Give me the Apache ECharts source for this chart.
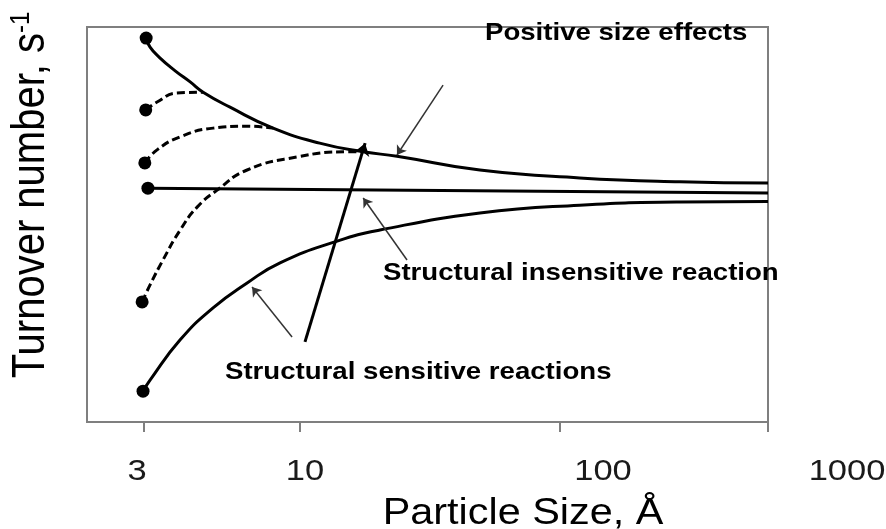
<!DOCTYPE html>
<html>
<head>
<meta charset="utf-8">
<script src="https://cdn.jsdelivr.net/npm/echarts@6/dist/echarts.min.js"></script>
<style>
html, body { margin: 0; padding: 0; background: #fff; }
#chart { width: 886px; height: 529px; }
</style>
</head>
<body>
<div id="chart"></div>
<script>
// particle size (Å) vs turnover number (schematic, 0-100)
var positiveSize = [[2.56, 97.2], [2.65, 94.9], [2.89, 92.2], [3.31, 88.9], [3.78, 86.1], [4.24, 83.5], [5.38, 79.7], [7.88, 74.4], [11.9, 70.6], [17.5, 68.4], [23.6, 67.3], [49.2, 63.8], [119, 61.8], [289, 60.8], [631, 60.5]];
var insensitive = [[2.60, 59.2], [631, 58.0]];
var sensitive = [[2.49, 7.8], [2.65, 10.6], [3.46, 20.8], [4.63, 28.9], [6.26, 35.2], [8.38, 40.3], [13.9, 45.8], [20.3, 48.6], [49.2, 52.9], [119, 54.9], [289, 55.7], [631, 55.8]];
var dashedTop = [[2.55, 79.0], [2.82, 81.0], [3.36, 83.3], [4.24, 83.5]];
var dashedMid = [[2.53, 65.6], [2.82, 68.9], [3.46, 72.2], [4.63, 74.4], [6.26, 74.9], [7.88, 74.4]];
var dashedLow = [[2.47, 30.4], [2.65, 34.7], [2.97, 41.0], [3.46, 48.6], [4.02, 54.4], [4.80, 58.7], [6.26, 63.8], [9.74, 67.1], [15.2, 68.4], [17.5, 68.4]];

var xTicks = [2.5, 10, 100, 631];
var xTickLabels = ['3', '10', '100', '1000'];

// annotation arrows, [from, to] in data units
var thinArrows = [
    [[35.5, 85.3], [23.6, 67.6]],
    [[25.8, 41.0], [17.5, 56.7]],
    [[9.32, 21.5], [6.54, 34.2]]
];
var thickArrows = [
    [[10.45, 20.3], [17.8, 70.6]]
];

var FONT = '"Liberation Sans", Arial, Helvetica, sans-serif';
var STRETCH = 1.15;
var tickLabelX = [137, 305, 603, 847];

var chart = echarts.init(document.getElementById('chart'));

function curve(data, dashed) {
    return {
        type: 'line',
        data: data,
        smooth: 0.5,
        symbol: 'none',
        silent: true,
        z: 3,
        lineStyle: { color: '#000', width: 3, type: dashed ? [8, 4] : 'solid' }
    };
}

function label(text, x, y, size, bold, align) {
    return {
        type: 'text', x: x, y: y, scaleX: STRETCH, silent: true,
        style: {
            text: text, fill: '#000',
            font: (bold ? 'bold ' : '') + size + 'px ' + FONT,
            textAlign: align || 'left', align: align || 'left',
            textVerticalAlign: 'middle', verticalAlign: 'middle'
        }
    };
}

var curves = [positiveSize, dashedTop, dashedMid, insensitive, dashedLow, sensitive];
var startDots = curves.map(function (s) { return s[0]; });

var graphics = [
    label('Positive size effects', 485, 33, 24, true),
    label('Structural insensitive reaction', 383, 273, 24, true),
    label('Structural sensitive reactions', 225, 372, 24, true),
    label('Particle Size, Å', 523, 514, 36, false, 'center'),
    {
        type: 'text', x: 31, y: 195, rotation: Math.PI / 2, scaleY: STRETCH, silent: true,
        style: {
            text: 'Turnover number, s{sup|-1}', fill: '#000',
            font: '40px ' + FONT,
            textAlign: 'center', align: 'center',
            textVerticalAlign: 'middle', verticalAlign: 'middle',
            rich: { sup: { fontSize: 24, fontFamily: FONT, verticalAlign: 'top', fill: '#000' } }
        }
    }
];
xTickLabels.forEach(function (t, i) {
    var g = label(t, tickLabelX[i], 472, 30, false, 'center');
    g.style.fill = '#1a1a1a';
    graphics.push(g);
});

var option = {
    animation: false,
    backgroundColor: '#fff',
    grid: {
        left: 87, right: 118, top: 27, bottom: 107,
        show: true, borderColor: '#7f7f7f', borderWidth: 2, backgroundColor: 'transparent'
    },
    xAxis: {
        type: 'log',
        logBase: 10,
        min: 1.516,
        max: 631,
        axisLine: { show: true, lineStyle: { color: '#7f7f7f', width: 2 } },
        axisTick: { show: true, customValues: xTicks, length: 10, lineStyle: { color: '#7f7f7f', width: 2 } },
        axisLabel: { show: false },
        splitLine: { show: false },
        minorTick: { show: false }
    },
    yAxis: {
        type: 'value',
        min: 0,
        max: 100,
        axisLine: { show: false },
        axisTick: { show: false },
        axisLabel: { show: false },
        splitLine: { show: false }
    },
    series: [
        curve(positiveSize, false),
        curve(insensitive, false),
        curve(sensitive, false),
        curve(dashedTop, true),
        curve(dashedMid, true),
        curve(dashedLow, true),
        {
            type: 'scatter',
            data: startDots,
            symbolSize: 13,
            silent: true,
            z: 5,
            itemStyle: { color: '#000', opacity: 1 }
        },
        {
            type: 'lines',
            coordinateSystem: 'cartesian2d',
            data: thinArrows.map(function (a) { return { coords: a }; }),
            symbol: ['none', 'arrow'],
            symbolSize: 9,
            silent: true,
            z: 4,
            lineStyle: { color: '#333', width: 1.5, opacity: 1, curveness: 0 }
        },
        {
            type: 'lines',
            coordinateSystem: 'cartesian2d',
            data: thickArrows.map(function (a) { return { coords: a }; }),
            symbol: ['none', 'arrow'],
            symbolSize: 12,
            silent: true,
            z: 4,
            lineStyle: { color: '#000', width: 3, opacity: 1, curveness: 0 }
        }
    ],
    graphic: graphics
};
chart.setOption(option);
</script>
</body>
</html>
